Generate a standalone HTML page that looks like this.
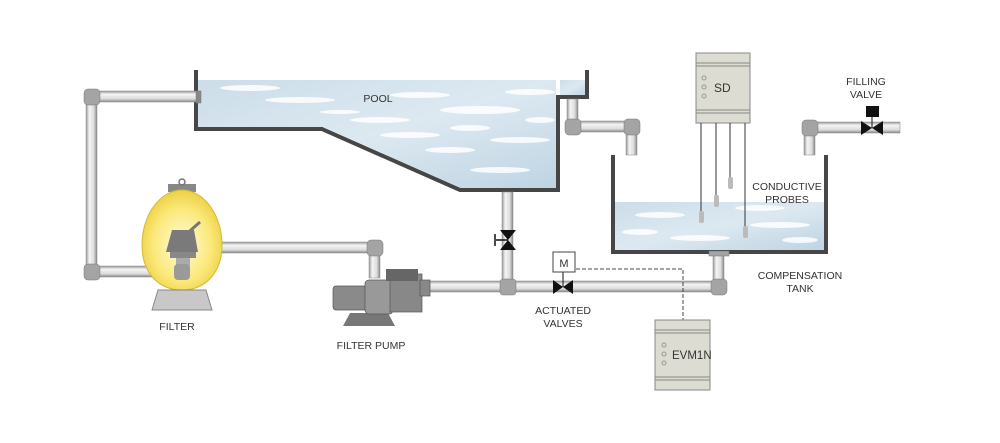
<!DOCTYPE html>
<html><head><meta charset="utf-8"><style>
html,body{margin:0;padding:0;background:#fff;}
svg{display:block;font-family:"Liberation Sans",sans-serif;}
text{fill:#333;font-size:10.5px;}
</style></head><body>
<svg width="1000" height="443" viewBox="0 0 1000 443" xmlns="http://www.w3.org/2000/svg">
<defs>
<linearGradient id="pv" x1="0" y1="0" x2="0" y2="1"><stop offset="0" stop-color="#999"/><stop offset="0.3" stop-color="#f4f4f4"/><stop offset="0.7" stop-color="#ddd"/><stop offset="1" stop-color="#888"/></linearGradient>
<linearGradient id="ph" x1="0" y1="0" x2="1" y2="0"><stop offset="0" stop-color="#999"/><stop offset="0.3" stop-color="#f4f4f4"/><stop offset="0.7" stop-color="#ddd"/><stop offset="1" stop-color="#888"/></linearGradient>
<radialGradient id="fy" cx="0.5" cy="0.55" r="0.6"><stop offset="0" stop-color="#fffbe0"/><stop offset="0.6" stop-color="#fbe97a"/><stop offset="1" stop-color="#e8c93a"/></radialGradient>
<linearGradient id="wt" x1="0" y1="0" x2="1" y2="1"><stop offset="0" stop-color="#cbdde9"/><stop offset="0.5" stop-color="#dde9f1"/><stop offset="1" stop-color="#bed4e3"/></linearGradient>
</defs>

<!-- pool water -->
<polygon points="198,80 556,80 556,188 461,188 323,127 198,127" fill="url(#wt)"/>
<polygon points="560,80 585,80 585,95 560,95" fill="url(#wt)"/>
<g fill="#fff" opacity="0.85">
<ellipse cx="420" cy="95" rx="30" ry="3"/><ellipse cx="480" cy="110" rx="40" ry="4"/><ellipse cx="520" cy="140" rx="30" ry="3"/><ellipse cx="300" cy="100" rx="35" ry="3"/><ellipse cx="450" cy="150" rx="25" ry="3"/><ellipse cx="380" cy="120" rx="30" ry="3"/>
<ellipse cx="250" cy="88" rx="30" ry="3"/><ellipse cx="530" cy="92" rx="25" ry="3"/><ellipse cx="410" cy="135" rx="30" ry="3"/><ellipse cx="500" cy="170" rx="30" ry="3"/><ellipse cx="540" cy="120" rx="15" ry="3"/><ellipse cx="340" cy="112" rx="20" ry="2"/><ellipse cx="470" cy="128" rx="20" ry="3"/>
</g>
<!-- pool walls -->
<polyline points="196,70 196,129 322,129 460,190 558,190 558,97 587,97 587,70" fill="none" stroke="#464646" stroke-width="4"/>

<!-- comp tank water -->
<rect x="615" y="202" width="209" height="48" fill="url(#wt)"/>
<g fill="#fff" opacity="0.85"><ellipse cx="660" cy="215" rx="25" ry="3"/><ellipse cx="780" cy="225" rx="30" ry="3"/><ellipse cx="700" cy="238" rx="30" ry="3"/><ellipse cx="640" cy="232" rx="18" ry="3"/><ellipse cx="760" cy="208" rx="25" ry="3"/><ellipse cx="800" cy="240" rx="18" ry="3"/></g>
<polyline points="613,155 613,252 826,252 826,155" fill="none" stroke="#464646" stroke-width="4"/>

<!-- pipes horizontal -->
<rect x="92" y="91" width="106" height="11" fill="url(#pv)" stroke="#888" stroke-width="0.5"/>
<rect x="92" y="266" width="90" height="11" fill="url(#pv)" stroke="#888" stroke-width="0.5"/>
<rect x="195" y="242" width="180" height="11" fill="url(#pv)" stroke="#888" stroke-width="0.5"/>
<rect x="428" y="281" width="292" height="11" fill="url(#pv)" stroke="#888" stroke-width="0.5"/>
<rect x="573" y="121" width="60" height="11" fill="url(#pv)" stroke="#888" stroke-width="0.5"/>
<rect x="810" y="122" width="90" height="11" fill="url(#pv)" stroke="#888" stroke-width="0.5"/>
<!-- pipes vertical -->
<rect x="86" y="97" width="11" height="175" fill="url(#ph)" stroke="#888" stroke-width="0.5"/>
<rect x="369" y="248" width="11" height="30" fill="url(#ph)" stroke="#888" stroke-width="0.5"/>
<rect x="502" y="192" width="11" height="95" fill="url(#ph)" stroke="#888" stroke-width="0.5"/>
<rect x="713" y="255" width="11" height="32" fill="url(#ph)" stroke="#888" stroke-width="0.5"/>
<rect x="567" y="99" width="11" height="28" fill="url(#ph)" stroke="#888" stroke-width="0.5"/>
<rect x="626" y="127" width="11" height="28" fill="url(#ph)" stroke="#888" stroke-width="0.5"/>
<rect x="804" y="128" width="11" height="27" fill="url(#ph)" stroke="#888" stroke-width="0.5"/>
<!-- elbows -->
<g fill="#a4a4a4" stroke="#777" stroke-width="0.5">
<rect x="84" y="89" width="16" height="16" rx="4"/>
<rect x="84" y="264" width="16" height="16" rx="4"/>
<rect x="367" y="240" width="16" height="16" rx="4"/>
<rect x="500" y="279" width="16" height="16" rx="3"/>
<rect x="711" y="279" width="16" height="16" rx="4"/>
<rect x="565" y="119" width="16" height="16" rx="4"/>
<rect x="624" y="119" width="16" height="16" rx="4"/>
<rect x="802" y="120" width="16" height="16" rx="4"/>
<rect x="196" y="91" width="5" height="12" fill="#888"/>
<rect x="709" y="251" width="20" height="5"/>
</g>

<!-- filter -->
<rect x="168" y="184" width="28" height="8" fill="#888"/>
<circle cx="182" cy="182" r="3" fill="none" stroke="#777" stroke-width="1.5"/>
<path d="M182,190 C160,190 142,215 142,245 C142,272 158,290 182,290 C206,290 222,272 222,245 C222,215 204,190 182,190 Z" fill="url(#fy)" stroke="#d8b930" stroke-width="1"/>
<polygon points="152,310 212,310 206,290 158,290" fill="#c8c8c8" stroke="#888"/>
<line x1="183" y1="237" x2="200" y2="222" stroke="#777" stroke-width="3"/>
<polygon points="172,230 194,230 198,252 166,252" fill="#7a7a7a"/>
<rect x="170" y="252" width="26" height="6" fill="#888"/>
<rect x="176" y="258" width="14" height="8" fill="#aaa"/>
<rect x="174" y="264" width="16" height="16" rx="4" fill="#9a9a9a"/>

<!-- pump -->
<polygon points="343,326 395,326 388,313 350,313" fill="#777"/>
<rect x="333" y="286" width="38" height="24" rx="3" fill="#8a8a8a" stroke="#555" stroke-width="0.7"/>
<rect x="365" y="280" width="28" height="34" rx="4" fill="#999" stroke="#555" stroke-width="0.7"/>
<rect x="390" y="274" width="32" height="38" fill="#888" stroke="#555" stroke-width="0.7"/>
<rect x="386" y="269" width="32" height="12" fill="#666"/>
<rect x="420" y="280" width="10" height="16" fill="#888" stroke="#555" stroke-width="0.7"/>

<!-- manual valve -->
<polygon points="500,230 516,230 508,240" fill="#111"/>
<polygon points="500,250 516,250 508,240" fill="#111"/>
<line x1="496" y1="240" x2="508" y2="240" stroke="#111" stroke-width="1.5"/>
<line x1="495" y1="234" x2="495" y2="246" stroke="#111" stroke-width="1.5"/>

<!-- actuated valve -->
<polygon points="553,280 553,294 563,287" fill="#111"/>
<polygon points="573,280 573,294 563,287" fill="#111"/>
<line x1="563" y1="272" x2="563" y2="287" stroke="#111"/>
<rect x="553" y="252" width="22" height="20" fill="#fff" stroke="#444"/>
<text x="564" y="267" text-anchor="middle" style="font-size:11px">M</text>
<polyline points="576,269 683,269 683,320" fill="none" stroke="#444" stroke-dasharray="4,2"/>

<!-- filling valve -->
<polygon points="861,121 861,135 872,128" fill="#111"/>
<polygon points="883,121 883,135 872,128" fill="#111"/>
<line x1="872" y1="117" x2="872" y2="128" stroke="#111"/>
<rect x="866" y="106" width="13" height="11" fill="#111"/>

<!-- SD box -->
<rect x="696" y="53" width="54" height="70" fill="#dcdcd2" stroke="#888"/>
<line x1="696" y1="63" x2="750" y2="63" stroke="#888"/><line x1="696" y1="66" x2="750" y2="66" stroke="#888"/>
<line x1="696" y1="110" x2="750" y2="110" stroke="#888"/><line x1="696" y1="113" x2="750" y2="113" stroke="#888"/>
<circle cx="704" cy="78" r="2" fill="none" stroke="#999"/><circle cx="704" cy="87" r="2" fill="none" stroke="#999"/><circle cx="704" cy="96" r="2" fill="none" stroke="#999"/>
<text x="714" y="92" style="font-size:12px">SD</text>
<g stroke="#333" stroke-width="1"><line x1="701" y1="123" x2="701" y2="212"/><line x1="716" y1="123" x2="716" y2="196"/><line x1="730" y1="123" x2="730" y2="180"/><line x1="745" y1="123" x2="745" y2="228"/></g>
<g fill="#bbb"><rect x="699" y="211" width="5" height="12" rx="2"/><rect x="714" y="195" width="5" height="12" rx="2"/><rect x="728" y="177" width="5" height="12" rx="2"/><rect x="743" y="226" width="5" height="12" rx="2"/></g>

<!-- EVM1N box -->
<rect x="655" y="320" width="55" height="70" fill="#dcdcd2" stroke="#888"/>
<line x1="655" y1="330" x2="710" y2="330" stroke="#888"/><line x1="655" y1="333" x2="710" y2="333" stroke="#888"/>
<line x1="655" y1="377" x2="710" y2="377" stroke="#888"/><line x1="655" y1="380" x2="710" y2="380" stroke="#888"/>
<circle cx="664" cy="345" r="2" fill="none" stroke="#999"/><circle cx="664" cy="354" r="2" fill="none" stroke="#999"/><circle cx="664" cy="363" r="2" fill="none" stroke="#999"/>
<text x="672" y="359" style="font-size:11.5px">EVM1N</text>

<!-- labels -->
<text x="378" y="102" text-anchor="middle">POOL</text>
<text x="177" y="330" text-anchor="middle">FILTER</text>
<text x="371" y="349" text-anchor="middle">FILTER PUMP</text>
<text x="563" y="314" text-anchor="middle">ACTUATED</text>
<text x="563" y="327" text-anchor="middle">VALVES</text>
<text x="800" y="279" text-anchor="middle">COMPENSATION</text>
<text x="800" y="292" text-anchor="middle">TANK</text>
<text x="787" y="190" text-anchor="middle">CONDUCTIVE</text>
<text x="787" y="203" text-anchor="middle">PROBES</text>
<text x="866" y="85" text-anchor="middle">FILLING</text>
<text x="866" y="98" text-anchor="middle">VALVE</text>
</svg>
</body></html>
